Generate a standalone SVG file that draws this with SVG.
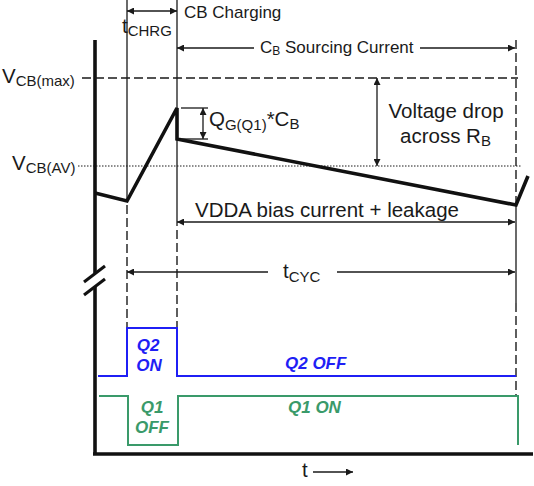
<svg xmlns="http://www.w3.org/2000/svg" width="534" height="486" viewBox="0 0 534 486">
<style>
text{font-family:"Liberation Sans",Arial,sans-serif;fill:#1a1a1a}
.t20{font-size:20.5px}
.t17{font-size:17px}
.sub{font-size:15px}
.sub11{font-size:12px}
.thin{stroke:#1a1a1a;stroke-width:1.3;fill:none}
.dash{stroke:#1a1a1a;stroke-width:1.4;fill:none;stroke-dasharray:9 4}
.dot{stroke:#1a1a1a;stroke-width:1;fill:none;stroke-dasharray:1.5 1.5}
.thick{stroke:#111;stroke-width:3.6;fill:none;stroke-linejoin:miter}
.blue{stroke:#1f1ff5;stroke-width:2;fill:none}
.green{stroke:#3a9a6a;stroke-width:2;fill:none}
.bt{font-size:17px;font-weight:bold;font-style:italic;fill:#1f1ff5}
.gt{font-size:17px;font-weight:bold;font-style:italic;fill:#3a9a6a}
</style>
<defs>
<marker id="ah" viewBox="0 0 10 10" refX="10" refY="5" markerWidth="9" markerHeight="7" markerUnits="userSpaceOnUse" orient="auto-start-reverse">
<path d="M0,0 L10,5 L0,10 z" fill="#1a1a1a"/>
</marker>
</defs>

<g id="axes">
<line x1="95" y1="40" x2="95" y2="273" class="thick"/>
<line x1="95" y1="287" x2="95" y2="455" class="thick"/>
<line x1="93" y1="454" x2="533" y2="454" class="thick"/>
<line x1="84" y1="282" x2="105" y2="266" stroke="#111" stroke-width="3"/>
<line x1="84" y1="295" x2="105" y2="279" stroke="#111" stroke-width="3"/>
<text x="302" y="477" class="t20" font-size="22">t</text>
<line x1="313" y1="472" x2="353" y2="472" class="thin" marker-end="url(#ah)"/>
</g>

<g id="guides">
<line x1="127" y1="0" x2="127" y2="200" class="thin"/>
<line x1="127" y1="205" x2="127" y2="328" class="dash"/>
<line x1="177" y1="0" x2="177" y2="226" class="thin"/>
<line x1="177" y1="230" x2="177" y2="328" class="dash"/>
<line x1="516" y1="40" x2="516" y2="200" class="dash"/>
<line x1="516" y1="200" x2="516" y2="303" class="thin"/>
<line x1="516" y1="303" x2="516" y2="397" class="dash"/>
<line x1="82" y1="78" x2="518" y2="78" class="dash" stroke-dasharray="10 5"/>
<line x1="78" y1="166" x2="521" y2="166" class="dot"/>
</g>

<g id="labels-left">
<text x="2" y="83" class="t20">V<tspan class="sub" dy="3">CB(max)</tspan></text>
<text x="12" y="170" class="t20">V<tspan class="sub" dy="3">CB(AV)</tspan></text>
</g>

<g id="waveform">
<polyline points="95,193 127,201 177,108 177,139 516,205 528,176" class="thick"/>
</g>

<g id="connectors">
<line x1="127" y1="11" x2="177" y2="11" class="thin" marker-start="url(#ah)" marker-end="url(#ah)"/>
<line x1="177" y1="48" x2="254" y2="48" class="thin" marker-start="url(#ah)"/>
<line x1="420" y1="48" x2="515" y2="48" class="thin" marker-end="url(#ah)"/>
<line x1="181" y1="108" x2="208" y2="108" class="thin"/>
<line x1="181" y1="139" x2="208" y2="139" class="thin"/>
<line x1="203" y1="108" x2="203" y2="139" class="thin" marker-start="url(#ah)" marker-end="url(#ah)"/>
<line x1="377" y1="78" x2="377" y2="166" class="thin" marker-start="url(#ah)" marker-end="url(#ah)"/>
<line x1="177" y1="222" x2="515" y2="222" class="thin" marker-start="url(#ah)" marker-end="url(#ah)"/>
<line x1="127" y1="272" x2="268" y2="272" class="thin" marker-start="url(#ah)"/>
<line x1="337" y1="272" x2="515" y2="272" class="thin" marker-end="url(#ah)"/>
</g>

<g id="labels-top">
<text x="184" y="18" class="t17">CB Charging</text>
<text x="122" y="33" class="t20">t<tspan class="sub" dy="3">CHRG</tspan></text>
<text x="260" y="53" class="t17">C<tspan class="sub11" dy="2">B</tspan><tspan dy="-2"> Sourcing Current</tspan></text>
<text x="209" y="126" class="t20">Q<tspan class="sub" dy="4">G(Q1)</tspan><tspan dy="-4">*C</tspan><tspan class="sub" dy="3">B</tspan></text>
<text x="446" y="118" class="t20" text-anchor="middle">Voltage drop</text>
<text x="400" y="143" class="t20">across R<tspan class="sub" dy="3">B</tspan></text>
<text x="195" y="217" class="t20" textLength="264">VDDA bias current + leakage</text>
<text x="283" y="278" class="t20">t<tspan class="sub" dy="4">CYC</tspan></text>
</g>

<g id="q2">
<polyline points="98,376 127,376 127,328 177,328 177,376 516,376" class="blue"/>
<text x="148" y="351" class="bt" text-anchor="middle">Q2</text>
<text x="149" y="371" class="bt" text-anchor="middle">ON</text>
<text x="285" y="369" class="bt">Q2 OFF</text>
</g>

<g id="q1">
<polyline points="99,396 128,396 128,445 178,445 178,396 518,396 518,445" class="green"/>
<text x="152" y="413" class="gt" text-anchor="middle">Q1</text>
<text x="152" y="433" class="gt" text-anchor="middle">OFF</text>
<text x="288" y="413" class="gt">Q1 ON</text>
</g>
</svg>
